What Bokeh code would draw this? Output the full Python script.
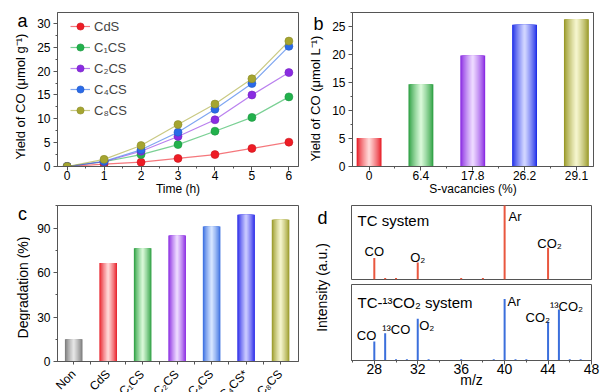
import math
from bokeh.plotting import figure
from bokeh.layouts import row, column
from bokeh.models import (Range1d, SingleIntervalTicker, FixedTicker, Label,
                          Legend, LegendItem)
from bokeh.embed import file_html
from bokeh.resources import INLINE

FONT = "Liberation Sans"

# ---------------- data ----------------
time_h = [0, 1, 2, 3, 4, 5, 6]
series_names = ["CdS", "C₁CS", "C₂CS", "C₄CS", "C₈CS"]
yield_cds = [0, 0.5, 0.9, 1.7, 2.5, 3.8, 5.1]
yield_c1cs = [0, 1.0, 2.5, 4.6, 7.4, 10.3, 14.6]
yield_c2cs = [0, 1.0, 3.2, 6.3, 9.8, 15.0, 19.7]
yield_c4cs = [0, 1.1, 3.5, 7.2, 12.0, 17.4, 25.2]
yield_c8cs = [0, 1.5, 4.4, 8.8, 13.1, 18.4, 26.3]
series_colors = ["#ee1c25", "#22b14c", "#8a2be2", "#2a6ae8", "#a5a530"]

s_vacancies = ["0", "6.4", "17.8", "26.2", "29.1"]
co_yield_b = [5.1, 14.7, 19.8, 25.3, 26.3]
b_dark = ["#e8202a", "#2ea043", "#8a2be2", "#2030e8", "#9a9a2a"]
b_light = ["#ffd6d6", "#d6f7d6", "#ecd8ff", "#d0d4ff", "#f4f4cc"]

catalysts = ["Non", "CdS", "C₁CS", "C₂CS", "C₄CS", "C₄CS*", "C₈CS"]
degradation = [15.1, 66.5, 76.5, 85.0, 91.1, 99.0, 95.6]
c_dark = ["#7a7a7a", "#e8202a", "#2ea043", "#8a2be2", "#3a6ee0", "#2a2ae8", "#9a9a2a"]
c_light = ["#e4e4e4", "#ffd6d6", "#d6f7d6", "#ecd8ff", "#d4e4ff", "#c8c8ff", "#f4f4cc"]

mz_tc = [28, 29, 30, 32, 36, 38, 40, 44]
int_tc = [0.29, 0.02, 0.02, 0.23, 0.02, 0.02, 1.05, 0.43]
mz_13c = [28, 29, 30, 31, 32, 33, 36, 39, 40, 41, 42, 44, 45, 46, 47]
int_13c = [0.25, 0.36, 0.015, 0.015, 0.55, 0.015, 0.015, 0.015, 0.81,
           0.015, 0.015, 0.51, 0.67, 0.015, 0.015]
tc_labels = [("CO", 28), ("O₂", 32), ("Ar", 40), ("CO₂", 44)]
c13_labels = [("CO", 28), ("¹³CO", 29), ("O₂", 32), ("Ar", 40), ("CO₂", 44), ("¹³CO₂", 45)]


# ---------------- helpers ----------------
def mix(c1, c2, t):
    a = [int(c1[i:i + 2], 16) for i in (1, 3, 5)]
    b = [int(c2[i:i + 2], 16) for i in (1, 3, 5)]
    return "#" + "".join("%02x" % int(round(a[k] + (b[k] - a[k]) * t)) for k in range(3))


def no_align(p):
    try:
        p.frame_align = False
    except Exception:
        pass


def make_fig(width, height, xr, yr, borders, xaxis=True, yaxis=True):
    l, r, t, b = borders
    p = figure(width=width, height=height, x_range=Range1d(*xr), y_range=Range1d(*yr),
               output_backend="svg", toolbar_location=None,
               x_axis_location="below" if xaxis else None,
               y_axis_location="left" if yaxis else None,
               min_border_left=l, min_border_right=r, min_border_top=t, min_border_bottom=b)
    no_align(p)
    p.xgrid.visible = False
    p.ygrid.visible = False
    p.outline_line_color = "#555555"
    p.background_fill_color = "white"
    p.border_fill_color = "white"
    for ax in p.axis:
        ax.axis_line_color = "#555555"
        ax.major_tick_line_color = "#555555"
        ax.minor_tick_line_color = "#555555"
        ax.major_tick_out = 4
        ax.major_tick_in = 0
        ax.minor_tick_out = 2
        ax.minor_tick_in = 0
        ax.major_label_text_font = FONT
        ax.major_label_text_color = "black"
        ax.major_label_text_font_size = "12px"
        ax.major_label_standoff = 3
        ax.axis_label_text_font = FONT
        ax.axis_label_text_font_style = "normal"
        ax.axis_label_text_color = "black"
        ax.axis_label_text_font_size = "12px"
        ax.axis_label_standoff = 4
    return p


def strip(width, height, xr=None):
    p = figure(frame_width=width, frame_height=height,
               x_range=Range1d(*(xr if xr else (0, width))), y_range=Range1d(height, 0),
               output_backend="svg", toolbar_location=None, x_axis_location=None,
               y_axis_location=None, min_border=0, min_border_left=0, min_border_right=0,
               min_border_top=0, min_border_bottom=0, outline_line_color=None)
    no_align(p)
    p.xgrid.visible = False
    p.ygrid.visible = False
    p.background_fill_color = "white"
    p.border_fill_color = "white"
    return p


def gradient_bars(p, xs, tops, width, dark, light, layers=12):
    for k in range(layers):
        t = (k / (layers - 1)) ** 0.8
        w = width * (1 - k / layers)
        cols = [mix(d, l, t) for d, l in zip(dark, light)]
        p.vbar(x=xs, top=tops, bottom=0, width=w, fill_color=cols, line_color=None)


def txt(p, text, x, y, align="center", baseline="alphabetic", size="13px", angle=0.0):
    p.add_layout(Label(x=x, y=y, text=text, text_align=align, text_baseline=baseline,
                       text_font=FONT, text_font_size=size, text_color="black", angle=angle))


def side_strip(width, height, letter, lx, ly, ylabel, yx, yy, ysize="13px"):
    s = strip(width, height)
    txt(s, letter, lx, ly, size="18px")
    txt(s, ylabel, yx, yy, baseline="middle", size=ysize, angle=math.pi / 2)
    return s


# ---------------- panel a ----------------
a_xr, a_yr = (-0.26, 6.26), (0, 32.3)
pa = make_fig(270, 200, a_xr, a_yr, (27, 2, 12, 34))
pa.xaxis.ticker = SingleIntervalTicker(interval=1, num_minor_ticks=2)
pa.yaxis.ticker = SingleIntervalTicker(interval=5, num_minor_ticks=2)
pa.xaxis.axis_label = "Time (h)"
pa.xaxis.major_label_standoff = 0
pa.xaxis.axis_label_standoff = -1
items = []
for name, ys, col in zip(series_names,
                         [yield_cds, yield_c1cs, yield_c2cs, yield_c4cs, yield_c8cs],
                         series_colors):
    lr = pa.line(time_h, ys, line_color=col, line_alpha=0.6, line_width=1.2)
    sr = pa.scatter(time_h, ys, size=8, fill_color=col, line_color=mix(col, "#000000", 0.15),
                    line_width=0.6)
    items.append(LegendItem(label=name, renderers=[lr, sr]))
leg = Legend(items=items, location=(13, 47), border_line_color=None,
             background_fill_alpha=0, label_text_font=FONT, label_text_font_size="13px",
             glyph_height=18, glyph_width=20, spacing=3, padding=0, margin=0,
             label_standoff=4)
pa.add_layout(leg)
pa_l = side_strip(30, 200, "a", 22, 20, "Yield of CO (μmol g⁻¹)", 20, 96)

# ---------------- panel b ----------------
b_xr, b_yr = (-0.32, 4.33), (0, 27.5)
pb = make_fig(274, 200, b_xr, b_yr, (26, 7, 12, 34))
b_idx = list(range(len(s_vacancies)))
gradient_bars(pb, b_idx, co_yield_b, 0.48, b_dark, b_light)
pb.xaxis.ticker = FixedTicker(ticks=b_idx, minor_ticks=[i + 0.5 for i in b_idx[:-1]])
pb.xaxis.major_label_overrides = {i: s for i, s in zip(b_idx, s_vacancies)}
pb.yaxis.ticker = SingleIntervalTicker(interval=5, num_minor_ticks=2)
pb.xaxis.axis_label = "S-vacancies (%)"
pb.xaxis.major_label_standoff = 0
pb.xaxis.axis_label_standoff = -1
pb_l = side_strip(26, 200, "b", 18, 23, "Yield of CO (μmol L⁻¹)", 15, 98)

# ---------------- panel c ----------------
c_xr, c_yr = (-0.47, 6.52), (0, 105.3)
pc = make_fig(270, 166, c_xr, c_yr, (27, 2, 5, 5))
c_idx = list(range(len(catalysts)))
gradient_bars(pc, c_idx, degradation, 0.51, c_dark, c_light)
pc.xaxis.ticker = FixedTicker(ticks=[], minor_ticks=c_idx + [i + 0.5 for i in c_idx[:-1]])
pc.xaxis.minor_tick_out = 3
pc.yaxis.ticker = SingleIntervalTicker(interval=30, num_minor_ticks=2)
upp = (c_xr[1] - c_xr[0]) / 241
pc_x = strip(270, 26, (c_xr[0] - 27 * upp, c_xr[1] + 2 * upp))
CHAR_W = {"C": 0.722, "S": 0.667, "N": 0.722, "o": 0.556, "n": 0.556, "d": 0.556, "*": 0.389}
LBL_PX, LBL_H = 12, 13.8
for i, name in zip(c_idx, catalysts):
    L = LBL_PX * sum(CHAR_W.get(ch, 0.45) for ch in name)
    rx, ry = -5.0, 0.5          # top-right corner of the rotated label, px from tick / strip top
    cx = rx + 0.354 * (LBL_H - L)
    cy = ry + 0.354 * (LBL_H + L)
    txt(pc_x, name, i + cx * upp, cy, align="center", baseline="middle",
        size="%dpx" % LBL_PX, angle=math.pi / 4)
pc_l = side_strip(30, 192, "c", 22, 13, "Degradation (%)", 22, 87, ysize="14px")

# ---------------- panel d ----------------
pdl = side_strip(35, 192, "d", 22, 17, "Intensity (a.u.)", 21, 87, ysize="14px")

d_xr = (25.9, 48.0)
pd1 = make_fig(265, 81, d_xr, (0, 1), (16, 9, 5, 2), xaxis=False, yaxis=False)
pd2 = make_fig(265, 111, d_xr, (0, 1), (16, 9, 3, 32), xaxis=True, yaxis=False)
pd2.xaxis.ticker = SingleIntervalTicker(interval=4, num_minor_ticks=2)
pd2.xaxis.axis_label = "m/z"
pd2.xaxis.major_label_text_font_size = "14px"
pd2.xaxis.axis_label_text_font_size = "14px"
pd2.xaxis.major_label_standoff = -1
pd2.xaxis.axis_label_standoff = -5

top_col, bot_col = "#e9573f", "#3b6fdc"
pd1.segment(x0=mz_tc, y0=[0] * len(mz_tc), x1=mz_tc, y1=int_tc, line_color=top_col, line_width=2)
pd2.segment(x0=mz_13c, y0=[0] * len(mz_13c), x1=mz_13c, y1=int_13c, line_color=bot_col, line_width=2)

dx1 = (d_xr[1] - d_xr[0]) / 240
h_tc = dict(zip(mz_tc, int_tc))
h_13 = dict(zip(mz_13c, int_13c))
txt(pd1, "TC system", d_xr[0] + 6 * dx1, 1 - 15 / 74, align="left", size="15px")
txt(pd2, "TC-¹³CO₂ system", d_xr[0] + 6 * dx1, 1 - 18 / 76, align="left", size="15px")
t_off = {"CO": (0, 7, "center"), "O₂": (0, 5, "center"), "CO₂": (1.5, 4, "center")}
for text, mz in tc_labels:
    if text == "Ar":
        txt(pd1, text, mz + 4 * dx1, 1 - 3 / 74, align="left", baseline="top")
    else:
        ox, oy, al = t_off[text]
        txt(pd1, text, mz + ox * dx1, min(h_tc[mz], 1) + oy / 74, align=al)
b_off = {"CO": (2, 6, "right"), "¹³CO": (-3, 3.5, "left"), "O₂": (1.5, -7, "left"),
         "Ar": (3, -3, "left"), "CO₂": (2, 4, "right"), "¹³CO₂": (-9, 3, "left")}
for text, mz in c13_labels:
    ox, oy, al = b_off[text]
    txt(pd2, text, mz + ox * dx1, h_13[mz] + oy / 76, align=al)

layout = column(row(pa_l, pa, pb_l, pb),
                row(pc_l, column(pc, pc_x), pdl, column(pd1, pd2)))
open("out.html", "w").write(file_html(layout, INLINE))
